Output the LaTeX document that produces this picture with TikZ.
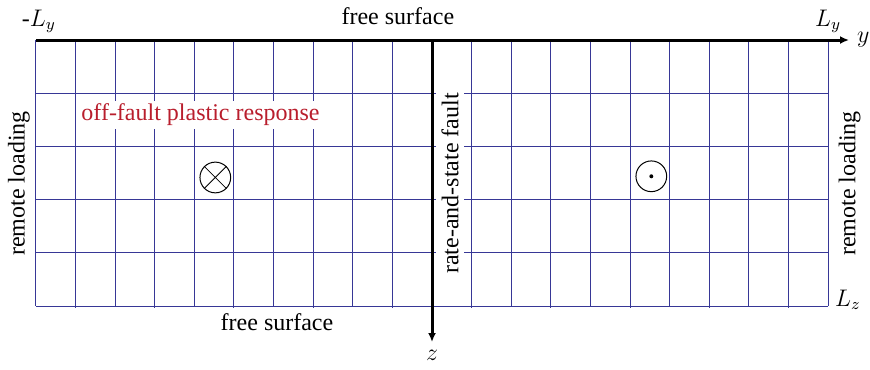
\documentclass[tikz,border=0pt]{standalone}
\usepackage{fontspec}
\setmainfont{Liberation Serif}
\usetikzlibrary{positioning,calc,arrows.meta}
\definecolor{gridblue}{RGB}{55,55,150}
\definecolor{plasticred}{RGB}{185,30,45}

\begin{document}
\begin{tikzpicture}[
    gridline/.style={draw=gridblue, line width=0.5pt},
    axis/.style={line width=1.5pt, -{Latex[length=4.5pt,width=4pt]}},
    lab/.style={font=\large},
    vlab/.style={font=\large, rotate=90},
    sense/.style={draw, circle, minimum size=0.54cm, inner sep=0pt, line width=0.5pt},
]
\useasboundingbox (-7.592,0.703) rectangle (7.697,-5.782);
% Cell size (20 x 5 cells)
\def\cw{0.696}
\def\ch{0.935}

% Grid
\foreach \i in {-10,...,10}
    \draw[gridline] (\i*\cw, 0) -- (\i*\cw, -5*\ch);
\foreach \i in {-9,-7,...,9}
    \draw[gridline] (\i*\cw, -5*\ch) -- (\i*\cw, -5*\ch-0.035);
\foreach \j in {1,...,5}
    \draw[gridline] (-10*\cw, -\j*\ch) -- (10*\cw, -\j*\ch);

% Corners and axis ends
\coordinate (tl) at (-10*\cw, 0);
\coordinate (tr) at (10*\cw, 0);
\coordinate (br) at (10*\cw, -5*\ch);
\coordinate (O) at (0, 0);
\coordinate (yend) at (7.328, 0);
\coordinate (zend) at (0, -5.307);

% Labels over the grid
\node[vlab, fill=white, inner sep=2.5pt] (fault) at (0.316, -2.522) {rate-and-state fault};
\node[lab, text=plasticred, fill=white, inner sep=1.5pt, anchor=base] (plastic) at (-4.068, -1.423) {off-fault plastic response};

% Boundary labels
\node[lab, anchor=base] (ftop) at (-0.6, 0.28) {free surface};
\node[lab, below] (fbot) at (-2.724, -5*\ch) {free surface};
\node[lab, above, xshift=1.5pt] (Lmin) at (tl) {-$L_y$};
\node[lab, above] (Lmax) at (tr) {$L_y$};
\node[lab, anchor=base west] (Lz) at (br) {$L_z$};
\node[vlab] (loadL) at (-7.26, -2.522) {remote loading};
\node[vlab] (loadR) at (7.337, -2.522) {remote loading};

% Axes
\draw[axis] (tl) -- (yend) node[lab, right] (ylab) {$y$};
\draw[axis] (O) -- (zend) node[lab, below] (zlab) {$z$};

% Slip sense symbols
\node[sense] (into) at (-3.808, -2.416) {};
\draw (into.45) -- (into.225) (into.135) -- (into.315);
\node[sense] (outof) at (3.854, -2.395) {};
\fill (outof.center) circle (0.035);
\end{tikzpicture}
\end{document}
